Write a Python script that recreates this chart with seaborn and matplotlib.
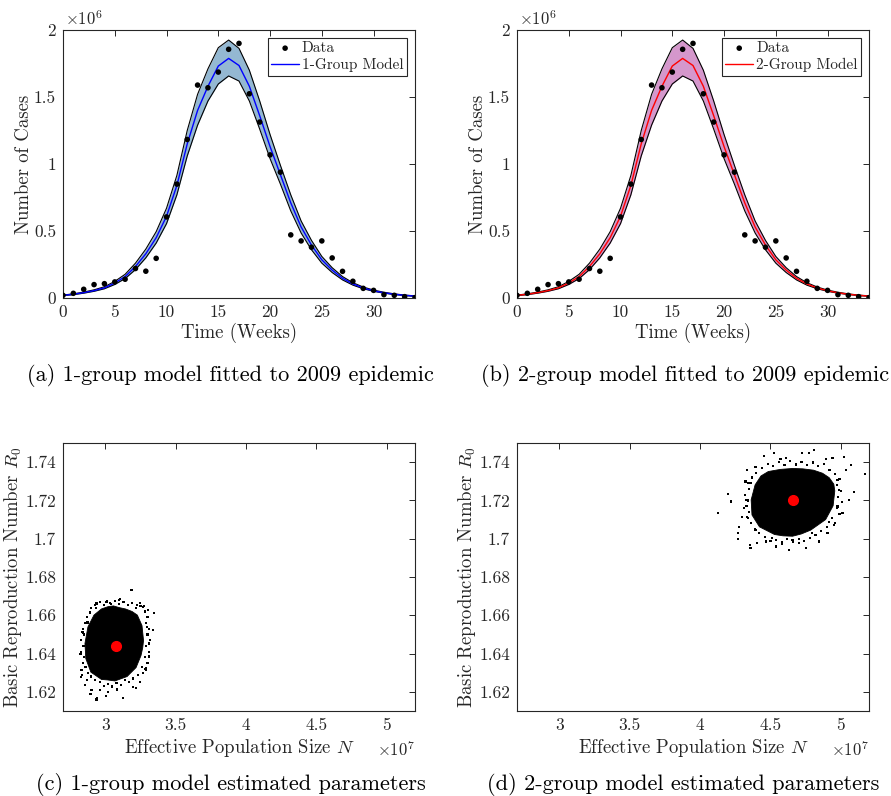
import matplotlib
matplotlib.use("Agg")
import matplotlib.pyplot as plt
import pandas as pd
import seaborn as sns
from matplotlib.ticker import FuncFormatter

# weekly case counts (millions)
weeks = list(range(35))
cases = [0.020, 0.035, 0.065, 0.100, 0.107, 0.120, 0.140, 0.220, 0.200, 0.296,
         0.605, 0.850, 1.183, 1.589, 1.569, 1.686, 1.856, 1.900, 1.524, 1.313,
         1.068, 0.939, 0.471, 0.426, 0.379, 0.426, 0.299, 0.199, 0.125, 0.072,
         0.057, 0.025, 0.020, 0.010, 0.003]

# fitted model and its envelope (millions), same for both panels as read
model_fit = [0.020, 0.028, 0.040, 0.055, 0.076, 0.112, 0.160, 0.235, 0.330, 0.450,
             0.610, 0.840, 1.150, 1.400, 1.580, 1.731, 1.788, 1.735, 1.580, 1.360,
             1.130, 0.920, 0.710, 0.530, 0.395, 0.285, 0.208, 0.147, 0.105, 0.075,
             0.054, 0.039, 0.028, 0.020, 0.014]
model_upper = [0.022, 0.031, 0.044, 0.061, 0.084, 0.124, 0.177, 0.260, 0.365, 0.495,
               0.670, 0.915, 1.250, 1.520, 1.710, 1.868, 1.925, 1.863, 1.700, 1.470,
               1.220, 0.990, 0.770, 0.575, 0.430, 0.310, 0.226, 0.160, 0.114, 0.082,
               0.059, 0.043, 0.031, 0.022, 0.016]
model_lower = [0.018, 0.025, 0.036, 0.050, 0.069, 0.101, 0.145, 0.212, 0.300, 0.410,
               0.555, 0.770, 1.060, 1.290, 1.470, 1.597, 1.657, 1.619, 1.470, 1.260,
               1.040, 0.850, 0.650, 0.485, 0.360, 0.260, 0.190, 0.135, 0.096, 0.069,
               0.050, 0.036, 0.026, 0.018, 0.013]

# parameter samples, 1-group: dense core outline + fringe points (N in 1e7)
core1_n = [2.973, 3.020, 3.058, 3.100, 3.144, 3.190, 3.228, 3.261, 3.272, 3.266,
           3.254, 3.219, 3.155, 3.110, 3.069, 3.020, 2.973, 2.898, 2.862, 2.856,
           2.877, 2.920]
core1_r = [1.6633, 1.6645, 1.6649, 1.6640, 1.6633, 1.6620, 1.6601, 1.6546, 1.6468, 1.6430,
           1.6390, 1.6327, 1.6280, 1.6268, 1.6257, 1.6262, 1.6265, 1.6303, 1.6374, 1.6453,
           1.6539, 1.6601]
fringe1_n = [3.187, 3.346, 3.341, 3.313, 3.287, 3.128, 2.938, 2.896, 2.827, 2.820,
             2.839, 2.872, 2.938, 3.009, 3.097, 3.223, 3.270, 3.306, 2.832, 2.855,
             2.903, 3.021, 3.081, 3.199, 3.246, 3.289, 3.313, 3.299, 3.005, 2.939,
             2.899, 2.833, 2.826, 2.840, 2.880, 2.934, 3.104, 3.033, 3.246, 3.274,
             2.868, 2.962, 3.220, 3.284, 3.312,
             2.90, 2.93, 2.96, 2.99, 3.01, 3.04, 3.07, 3.10, 3.13, 3.16,
             3.19, 3.22, 3.25, 3.28, 3.30, 3.29, 3.31, 3.30, 3.32, 3.29,
             3.31, 3.28, 3.30, 3.26, 3.27, 3.23, 3.20, 3.17, 3.14, 3.11,
             3.08, 3.05, 3.02, 2.99, 2.96, 2.93, 2.90, 2.88, 2.86, 2.84,
             2.85, 2.83, 2.845, 2.83, 2.85, 2.84, 2.86, 2.87, 2.89]
fringe1_r = [1.6732, 1.6613, 1.6523, 1.6383, 1.6313, 1.6170, 1.6160, 1.6188, 1.6278, 1.6397,
             1.6514, 1.6566, 1.6662, 1.6671, 1.6680, 1.6653, 1.6645, 1.6627, 1.6313, 1.6235,
             1.6209, 1.6200, 1.6212, 1.6226, 1.6252, 1.6322, 1.6453, 1.6540, 1.6179, 1.6167,
             1.6190, 1.6289, 1.6398, 1.6510, 1.6562, 1.6637, 1.6684, 1.6663, 1.6663, 1.6649,
             1.6263, 1.6210, 1.6219, 1.6318, 1.6388,
             1.6640, 1.6655, 1.6668, 1.6652, 1.6672, 1.6660, 1.6675, 1.6661, 1.6670, 1.6652,
             1.6664, 1.6640, 1.6650, 1.6620, 1.6590, 1.6560, 1.6530, 1.6500, 1.6470, 1.6440,
             1.6410, 1.6380, 1.6350, 1.6330, 1.6300, 1.6290, 1.6270, 1.6250, 1.6262, 1.6235,
             1.6245, 1.6228, 1.6240, 1.6230, 1.6250, 1.6262, 1.6280, 1.6300, 1.6330, 1.6350,
             1.6380, 1.6410, 1.6440, 1.6470, 1.6500, 1.6530, 1.6560, 1.6590, 1.6615]
best1 = (3.073, 1.6439)

# parameter samples, 2-group
core2_n = [4.485, 4.570, 4.657, 4.730, 4.806, 4.870, 4.917, 4.950, 4.957, 4.945,
           4.892, 4.786, 4.720, 4.657, 4.590, 4.529, 4.422, 4.369, 4.363, 4.391,
           4.433]
core2_r = [1.7351, 1.7362, 1.7367, 1.7365, 1.7358, 1.7342, 1.7319, 1.7285, 1.7250, 1.7172,
           1.7100, 1.7045, 1.7025, 1.7013, 1.7015, 1.7022, 1.7062, 1.7124, 1.7203, 1.7281,
           1.7328]
fringe2_n = [4.126, 4.200, 4.221, 4.276, 4.271, 4.268, 4.352, 4.359, 4.454, 4.525,
             4.572, 4.608, 4.727, 4.774, 4.810, 4.893, 4.941, 5.024, 5.071, 5.036,
             5.095, 5.059, 5.012, 5.173, 4.976, 4.751, 4.632, 4.537, 4.466, 4.406,
             4.323, 4.335, 4.394, 4.846, 4.905, 4.952, 4.299, 4.311, 4.584, 4.703,
             4.988, 4.976, 4.917, 4.798, 4.656, 4.513, 4.394, 4.335, 4.328, 4.359,
             4.44, 4.48, 4.52, 4.56, 4.60, 4.64, 4.68, 4.72, 4.76, 4.80,
             4.84, 4.88, 4.92, 4.96, 4.99, 4.97, 5.00, 4.98, 5.01, 4.97,
             4.99, 4.94, 4.96, 4.90, 4.86, 4.82, 4.78, 4.74, 4.70, 4.66,
             4.62, 4.58, 4.54, 4.50, 4.46, 4.42, 4.39, 4.36, 4.34, 4.35,
             4.33, 4.34, 4.32, 4.35, 4.34, 4.37, 4.40]
fringe2_r = [1.7133, 1.7232, 1.7194, 1.7063, 1.7028, 1.6997, 1.6967, 1.6953, 1.7433, 1.7447,
             1.7415, 1.7421, 1.7447, 1.7447, 1.7464, 1.7415, 1.7421, 1.7426, 1.7386, 1.7360,
             1.7246, 1.7203, 1.7136, 1.7339, 1.7307, 1.6950, 1.6941, 1.6959, 1.6985, 1.6976,
             1.7299, 1.7360, 1.7374, 1.6985, 1.7028, 1.7072, 1.7115, 1.7159, 1.6972, 1.6976,
             1.7255, 1.7168, 1.7089, 1.7028, 1.6993, 1.7002, 1.7046, 1.7115, 1.7203, 1.7290,
             1.7370, 1.7390, 1.7378, 1.7400, 1.7385, 1.7405, 1.7388, 1.7402, 1.7384, 1.7398,
             1.7378, 1.7390, 1.7360, 1.7340, 1.7310, 1.7280, 1.7250, 1.7220, 1.7190, 1.7160,
             1.7130, 1.7110, 1.7080, 1.7060, 1.7040, 1.7020, 1.7005, 1.6990, 1.7000, 1.6985,
             1.6998, 1.6982, 1.6995, 1.6990, 1.7010, 1.7030, 1.7050, 1.7080, 1.7110, 1.7140,
             1.7170, 1.7200, 1.7230, 1.7260, 1.7290, 1.7320, 1.7345]
best2 = (4.663, 1.7201)

sns.set_theme(style="white")
plt.rcParams["font.family"] = ["cmr10", "DejaVu Serif"]
plt.rcParams["mathtext.fontset"] = "cm"
plt.rcParams["axes.formatter.use_mathtext"] = True
plt.rcParams["axes.unicode_minus"] = False

INK = "#262626"
fmt = FuncFormatter(lambda v, _: f"{v:g}")


def style_axes(ax):
    for sp in ax.spines.values():
        sp.set_color(INK)
        sp.set_linewidth(0.8)
    ax.tick_params(direction="in", top=True, right=True, length=4, width=0.7,
                   color=INK, labelcolor=INK, labelsize=12.5, pad=5)
    ax.xaxis.set_major_formatter(fmt)
    ax.yaxis.set_major_formatter(fmt)


def epidemic_panel(ax, fill, line_color, label):
    df = pd.DataFrame({"week": weeks, "cases": cases, "fit": model_fit,
                       "lo": model_lower, "hi": model_upper})
    ax.fill_between(df["week"], df["lo"], df["hi"], color=fill, lw=0)
    sns.lineplot(data=df, x="week", y="hi", color="black", lw=0.8, ax=ax)
    sns.lineplot(data=df, x="week", y="lo", color="black", lw=0.8, ax=ax)
    sns.lineplot(data=df, x="week", y="fit", color=line_color, lw=1.0, ax=ax,
                 label=label)
    sns.scatterplot(data=df, x="week", y="cases", color="black", s=16,
                    edgecolor="none", ax=ax, label="Data", zorder=5)
    ax.set_xlim(0, 34)
    ax.set_ylim(0, 2)
    ax.set_xticks(range(0, 31, 5))
    ax.set_yticks([0, 0.5, 1, 1.5, 2])
    style_axes(ax)
    ax.set_xlabel("Time (Weeks)", fontsize=13.5, color=INK, labelpad=2)
    ax.set_ylabel("Number of Cases", fontsize=13.5, color=INK, labelpad=1)
    ax.text(0.005, 1.006, r"$\times10^{6}$", transform=ax.transAxes,
            fontsize=12, color=INK, va="bottom", ha="left")
    h, l = ax.get_legend_handles_labels()
    order = [l.index("Data"), l.index(label)]
    leg = ax.legend([h[i] for i in order], [l[i] for i in order],
                    loc="upper right", fontsize=11, fancybox=False,
                    framealpha=1, edgecolor=INK, borderaxespad=0.5,
                    handlelength=1.8, handletextpad=0.2, borderpad=0.25,
                    labelspacing=0.2)
    leg.get_frame().set_linewidth(0.8)


def param_panel(ax, core_n, core_r, fr_n, fr_r, best):
    ax.fill(core_n, core_r, color="black", lw=0.6, zorder=2)
    pts = pd.DataFrame({"N": fr_n, "R0": fr_r})
    sns.scatterplot(data=pts, x="N", y="R0", color="black", s=2.5, marker="s",
                    edgecolor="none", ax=ax, zorder=3)
    ax.plot([best[0]], [best[1]], "o", color="red", ms=7, zorder=4)
    ax.set_xlim(2.7, 5.2)
    ax.set_ylim(1.61, 1.75)
    ax.set_xticks([3, 3.5, 4, 4.5, 5])
    ax.set_yticks([1.62, 1.64, 1.66, 1.68, 1.70, 1.72, 1.74])
    style_axes(ax)
    ax.set_xlabel(r"Effective Population Size $N$", fontsize=13.5, color=INK,
                  labelpad=3)
    ax.set_ylabel(r"Basic Reproduction Number $R_0$", fontsize=13.5, color=INK,
                  labelpad=1)
    ax.text(1.0, -0.105, r"$\times10^{7}$", transform=ax.transAxes,
            fontsize=12, color=INK, va="top", ha="right")


fig = plt.figure(figsize=(8.91, 7.96), dpi=100)
W, H = 891, 796
boxes = [(63, 30), (517, 30), (63, 443), (517, 443)]
axs = [fig.add_axes([x / W, 1 - (y + 268) / H, 352 / W, 268 / H]) for x, y in boxes]

epidemic_panel(axs[0], "#94b8d2", "#0000ff", "1-Group Model")
epidemic_panel(axs[1], "#d597cc", "#ff0000", "2-Group Model")
param_panel(axs[2], core1_n, core1_r, fringe1_n, fringe1_r, best1)
param_panel(axs[3], core2_n, core2_r, fringe2_n, fringe2_r, best2)

captions = [(230, 375, "(a) 1-group model fitted to 2009 epidemic"),
            (685, 375, "(b) 2-group model fitted to 2009 epidemic"),
            (231, 785, "(c) 1-group model estimated parameters"),
            (683, 785, "(d) 2-group model estimated parameters")]
for x, y, txt in captions:
    fig.text(x / W, 1 - y / H, txt, ha="center", va="center", fontsize=16,
             color="black")

fig.savefig("out.png", dpi=100)
